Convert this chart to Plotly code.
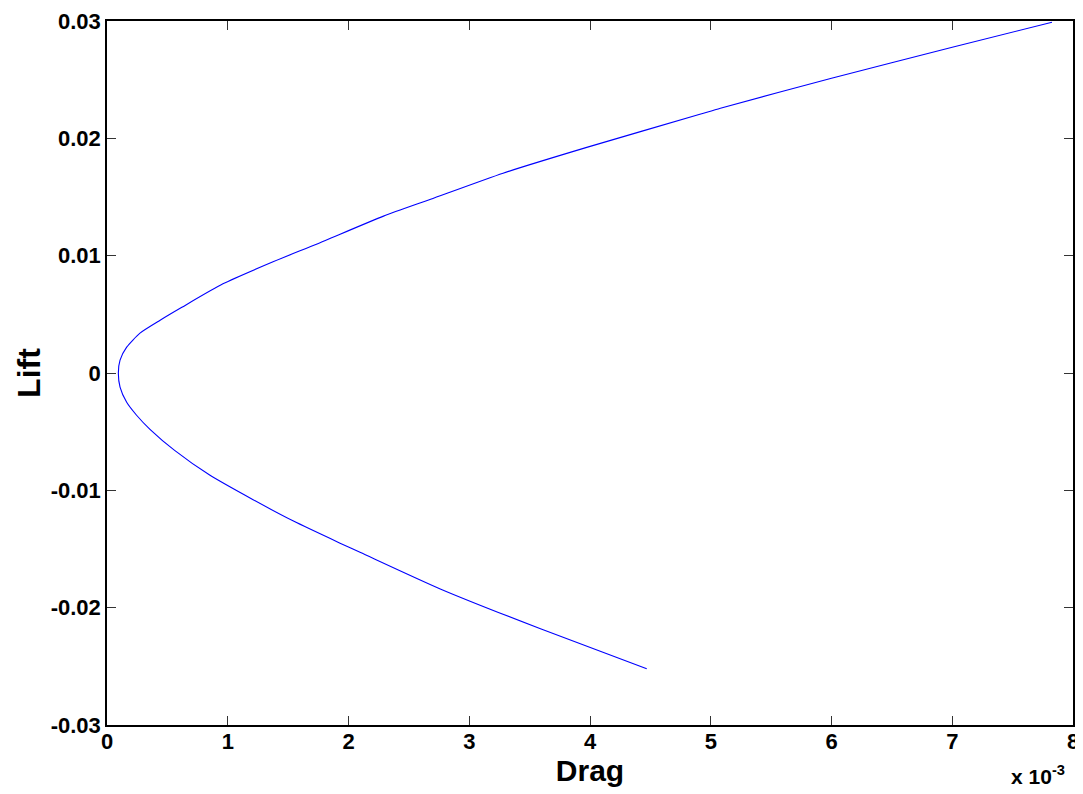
import plotly.graph_objects as go

# Drag in units of 1e-3 (axis shows "x 10^-3"), Lift
drag_e3 = [4.47, 3.59, 2.76, 2.10, 1.93, 1.54, 1.21, 0.85, 0.56, 0.356, 0.245,
           0.163, 0.108, 0.094, 0.108, 0.163, 0.273, 0.44, 0.62, 0.96, 1.38,
           1.74, 2.29, 2.68, 3.28, 3.98, 4.91, 5.08, 6.0, 7.0, 7.826]
lift = [-0.0252, -0.0218, -0.0184, -0.0153, -0.0145, -0.0126, -0.0108, -0.0087,
        -0.0066, -0.0048, -0.0036, -0.0025, -0.0012, 0.0, 0.0011, 0.0022, 0.0034,
        0.0045, 0.0056, 0.0076, 0.0095, 0.0110, 0.01337, 0.01481,
        0.01703, 0.01925, 0.02205, 0.02257, 0.02512, 0.02776, 0.0299]

x_ticks = [0, 1, 2, 3, 4, 5, 6, 7, 8]
x_ticktext = ["0", "1", "2", "3", "4", "5", "6", "7", "8"]
y_ticks = [-0.03, -0.02, -0.01, 0, 0.01, 0.02, 0.03]
y_ticktext = ["-0.03", "-0.02", "-0.01", "0", "0.01", "0.02", "0.03"]

FONT = "Liberation Sans"

fig = go.Figure()
fig.add_trace(go.Scatter(x=drag_e3, y=lift, mode="lines", line_shape="spline",
                         line=dict(color="rgb(0,0,255)", width=1.1, smoothing=0.6),
                         showlegend=False))

axis_common = dict(showgrid=False, zeroline=False, showline=True, linecolor="black",
                   linewidth=1.5, mirror="allticks", ticks="inside", ticklen=9,
                   tickcolor="#333", tickwidth=1, automargin=False,
                   tickfont=dict(family=FONT, size=22, color="black", weight="bold"))

# page body adds an 8px offset, so the figure is sized to fit the remaining window
fig.update_layout(
    width=1075, height=786,
    margin=dict(l=99, r=10, t=13, b=69),
    paper_bgcolor="white", plot_bgcolor="white",
    font=dict(family=FONT, color="black"),
    xaxis=dict(range=[0, 8], tickvals=x_ticks, ticktext=x_ticktext, ticklabelstandoff=-4,
               title=dict(text="<b>Drag</b>", font=dict(family=FONT, size=30), standoff=2),
               **axis_common),
    yaxis=dict(range=[-0.03, 0.03], tickvals=y_ticks, ticktext=y_ticktext,
               title=dict(text="<b>Lift</b>", font=dict(family=FONT, size=32), standoff=0),
               **axis_common),
)

fig.add_annotation(x=1.0, y=0, xref="paper", yref="paper", xanchor="right", yanchor="top",
                   yshift=-35, xshift=-6, showarrow=False,
                   text="<b>x 10<sup>-3</sup></b>", font=dict(family=FONT, size=21, color="black"))

fig.write_html("out.html")
